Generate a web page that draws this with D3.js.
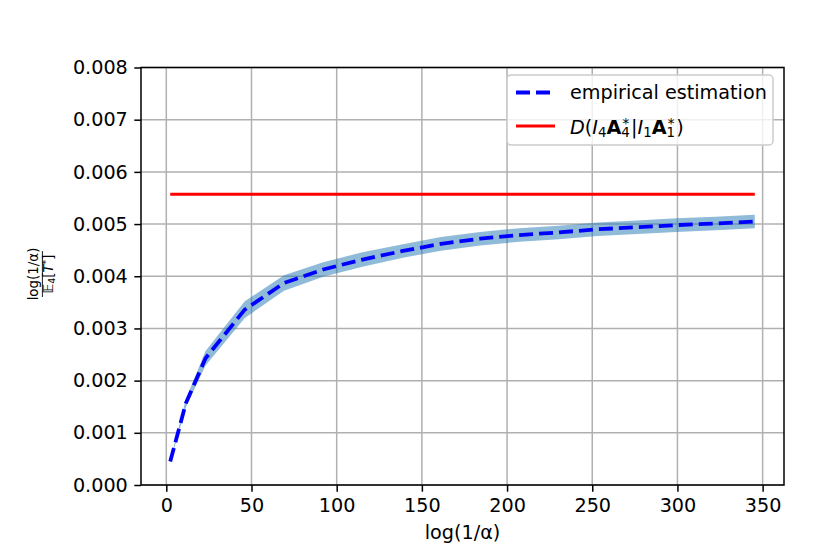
<!DOCTYPE html>
<html>
<head>
<meta charset="utf-8">
<script src="https://cdn.jsdelivr.net/npm/d3@7"></script>
<style>
  html, body { margin: 0; padding: 0; background: #fff; }
  svg { display: block; font-family: "DejaVu Sans", sans-serif; }
</style>
</head>
<body>
<svg id="chart" width="830" height="554"></svg>
<script>
// ---- data ----
const xVals = [2.303, 11.513, 23.026, 46.052, 69.078, 92.103, 115.129, 138.155, 161.181,
               184.207, 207.233, 230.259, 253.284, 276.310, 299.336, 322.362, 345.388];
const empirical = [0.00045, 0.00157, 0.00243, 0.00336, 0.00387, 0.00413, 0.00432, 0.00448, 0.00462,
                   0.00472, 0.00479, 0.00484, 0.00490, 0.00494, 0.00498, 0.00501, 0.00505];
const bandHalf = [0.00002, 0.00008, 0.00014, 0.00016, 0.00015, 0.00014, 0.00014, 0.00013, 0.00013,
                  0.00013, 0.00013, 0.00013, 0.00013, 0.00013, 0.00013, 0.00013, 0.00013];
const boundValue = 0.00557;
const xTicks = [0, 50, 100, 150, 200, 250, 300, 350];
const yTicks = [0, 0.001, 0.002, 0.003, 0.004, 0.005, 0.006, 0.007, 0.008];
const legendLabels = ["empirical estimation", "D(I4A4*|I1A1*)"];

// ---- layout ----
const L = 141, R = 784, T = 67.5, B = 485;
const svg = d3.select("#chart");
const xmin = d3.min(xVals), xmax = d3.max(xVals), pad = (xmax - xmin) * 0.05;
const x = d3.scaleLinear().domain([xmin - pad, xmax + pad]).range([L, R]);
const y = d3.scaleLinear().domain([0, 0.008]).range([B, T]);

const gridColor = "#b0b0b0";
// grid
svg.append("g").selectAll("line").data(xTicks).join("line")
  .attr("x1", d => x(d)).attr("x2", d => x(d)).attr("y1", T).attr("y2", B)
  .attr("stroke", gridColor).attr("stroke-width", 1.5);
svg.append("g").selectAll("line").data(yTicks).join("line")
  .attr("x1", L).attr("x2", R).attr("y1", d => y(d)).attr("y2", d => y(d))
  .attr("stroke", gridColor).attr("stroke-width", 1.5);

// band
const pts = xVals.map((xv, i) => ({x: xv, y: empirical[i], h: bandHalf[i]}));
const area = d3.area().x(d => x(d.x)).y0(d => y(d.y - d.h)).y1(d => y(d.y + d.h));
svg.append("path").datum(pts).attr("d", area)
  .attr("fill", "#1f77b4").attr("fill-opacity", 0.5).attr("stroke", "none");

// bound line
svg.append("line")
  .attr("x1", x(xmin)).attr("x2", x(xmax)).attr("y1", y(boundValue)).attr("y2", y(boundValue))
  .attr("stroke", "#ff0000").attr("stroke-width", 2.9);

// empirical line
const line = d3.line().x(d => x(d.x)).y(d => y(d.y));
svg.append("path").datum(pts).attr("d", line)
  .attr("fill", "none").attr("stroke", "#0000ff").attr("stroke-width", 3.8)
  .attr("stroke-dasharray", "14,6");

// axes
const xAxis = d3.axisBottom(x).tickValues(xTicks).tickSize(6.7).tickPadding(6.5).tickFormat(d3.format("d"));
const yAxis = d3.axisLeft(y).tickValues(yTicks).tickSize(6.7).tickPadding(6.5).tickFormat(d3.format(".3f"));
const gx = svg.append("g").attr("transform", `translate(0,${B})`).call(xAxis);
const gy = svg.append("g").attr("transform", `translate(${L},0)`).call(yAxis);
[gx, gy].forEach(g => {
  g.select(".domain").remove();
  g.selectAll(".tick line").attr("stroke", "#000").attr("stroke-width", 1.5);
  g.selectAll(".tick text").attr("fill", "#000").style("font-size", "19.2px")
    .style("font-family", "DejaVu Sans, sans-serif");
});

// spines
svg.append("rect").attr("x", L).attr("y", T).attr("width", R - L).attr("height", B - T)
  .attr("fill", "none").attr("stroke", "#000").attr("stroke-width", 1.5);

// x label
svg.append("text").attr("x", (L + R) / 2).attr("y", 539).attr("text-anchor", "middle")
  .style("font-size", "19.2px").text("log(1/α)");

// y label (fraction, rotated)
const yl = svg.append("g").attr("transform", "translate(0,274) rotate(-90)");
yl.append("text").attr("x", 0).attr("y", 38).attr("text-anchor", "middle")
  .style("font-size", "13.4px").text("log(1/α)");
yl.append("line").attr("x1", -23).attr("x2", 23).attr("y1", 42.4).attr("y2", 42.4)
  .attr("stroke", "#000").attr("stroke-width", 0.9);
const den = yl.append("text").attr("x", 0).attr("y", 52.5).attr("text-anchor", "middle")
  .style("font-size", "13.4px");
den.append("tspan").text("𝔼");
den.append("tspan").attr("dy", 2).style("font-size", "9.5px").text("4");
den.append("tspan").attr("dy", -2).text("[");
den.append("tspan").style("font-style", "italic").text("T");
den.append("tspan").attr("dy", -4).style("font-size", "9.5px").text("*");
den.append("tspan").attr("dy", 4).text("]");

// legend
const lg = svg.append("g");
lg.append("rect").attr("x", 507).attr("y", 75).attr("width", 266).attr("height", 70)
  .attr("rx", 4).attr("fill", "#fff").attr("fill-opacity", 0.8)
  .attr("stroke", "#cccccc").attr("stroke-width", 1.5);
lg.append("line").attr("x1", 516).attr("x2", 555).attr("y1", 92.5).attr("y2", 92.5)
  .attr("stroke", "#0000ff").attr("stroke-width", 3.8).attr("stroke-dasharray", "14,6");
lg.append("line").attr("x1", 516).attr("x2", 555).attr("y1", 126).attr("y2", 126)
  .attr("stroke", "#ff0000").attr("stroke-width", 2.9);
lg.append("text").attr("x", 570).attr("y", 99).style("font-size", "19.2px").text(legendLabels[0]);
const t2 = lg.append("text").attr("x", 570).attr("y", 134).style("font-size", "19.2px");
t2.append("tspan").style("font-style", "italic").text("D");
t2.append("tspan").text("(");
t2.append("tspan").style("font-style", "italic").text("I");
t2.append("tspan").attr("dy", 3).style("font-size", "13.4px").text("4");
t2.append("tspan").attr("dy", -3).style("font-weight", "bold").text("A");
t2.append("tspan").attr("dy", 3).style("font-size", "13.4px").text("4");
t2.append("tspan").attr("dx", -7.5).attr("dy", -9.5).style("font-size", "13.4px").text("*");
t2.append("tspan").attr("dx", 2).attr("dy", 6.5).text("|");
t2.append("tspan").style("font-style", "italic").text("I");
t2.append("tspan").attr("dy", 3).style("font-size", "13.4px").text("1");
t2.append("tspan").attr("dy", -3).style("font-weight", "bold").text("A");
t2.append("tspan").attr("dy", 3).style("font-size", "13.4px").text("1");
t2.append("tspan").attr("dx", -7.5).attr("dy", -9.5).style("font-size", "13.4px").text("*");
t2.append("tspan").attr("dx", 2).attr("dy", 6.5).text(")");
</script>
</body>
</html>
